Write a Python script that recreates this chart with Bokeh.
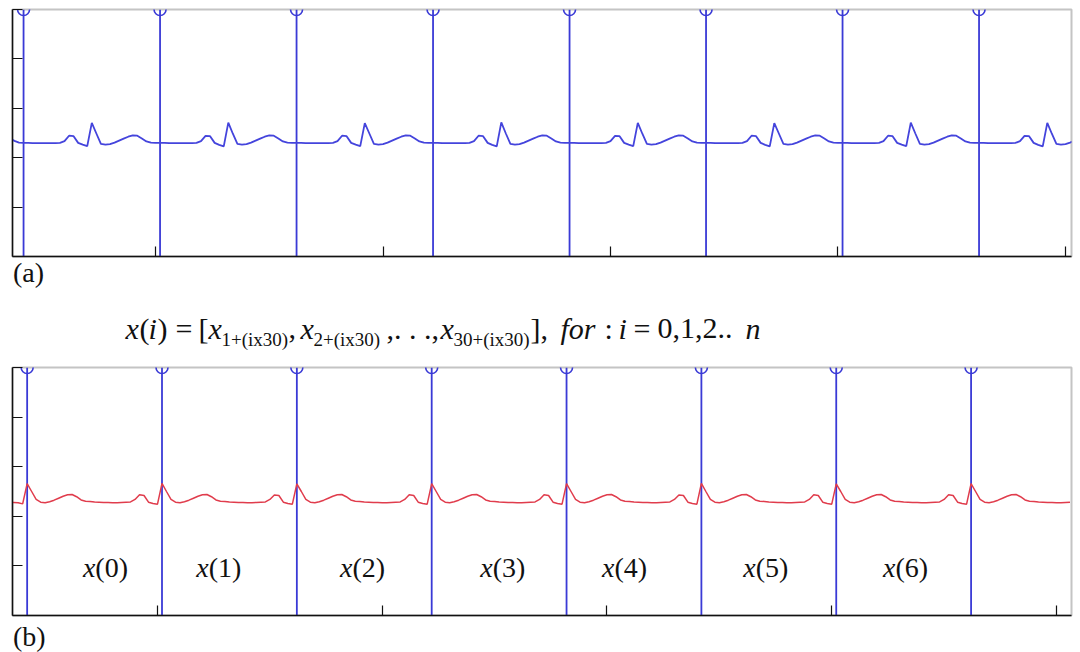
from bokeh.plotting import figure
from bokeh.layouts import column
from bokeh.models import Range1d, FixedTicker, ColumnDataSource, Label
from bokeh.embed import file_html
from bokeh.resources import INLINE
from bokeh.core.properties import value

# ---------------- data ----------------
stem_positions = [21, 51, 81, 111, 141, 171, 201, 231]
stem_values = [1, 1, 1, 1, 1, 1, 1, 1]
x_ticks = [0, 50, 100, 150, 200, 250]
y_ticks = [0, 0.2, 0.4, 0.6, 0.8, 1.0]

# (a) raw ECG, samples n = 18 .. 253
sig_a_start = 18
sig_a = [
    0.478, 0.468, 0.461,
    0.460, 0.460, 0.459, 0.459, 0.459, 0.459, 0.459, 0.459, 0.460, 0.467, 0.489, 0.487, 0.460, 0.453, 0.447,
    0.541, 0.498, 0.456, 0.453, 0.455, 0.461, 0.469, 0.477, 0.485, 0.490, 0.489, 0.478, 0.466, 0.461, 0.460,
    0.460, 0.460, 0.459, 0.459, 0.459, 0.459, 0.459, 0.459, 0.460, 0.467, 0.488, 0.487, 0.460, 0.452, 0.446,
    0.542, 0.497, 0.456, 0.453, 0.455, 0.461, 0.469, 0.477, 0.485, 0.490, 0.489, 0.478, 0.466, 0.461, 0.460,
    0.460, 0.460, 0.459, 0.459, 0.459, 0.459, 0.459, 0.459, 0.460, 0.467, 0.489, 0.487, 0.460, 0.453, 0.447,
    0.540, 0.498, 0.456, 0.453, 0.455, 0.461, 0.469, 0.477, 0.485, 0.490, 0.489, 0.478, 0.466, 0.461, 0.460,
    0.460, 0.460, 0.459, 0.459, 0.459, 0.459, 0.459, 0.459, 0.460, 0.467, 0.489, 0.487, 0.460, 0.452, 0.446,
    0.543, 0.498, 0.456, 0.453, 0.455, 0.461, 0.469, 0.477, 0.485, 0.490, 0.489, 0.478, 0.466, 0.461, 0.460,
    0.460, 0.460, 0.459, 0.459, 0.459, 0.459, 0.459, 0.459, 0.460, 0.467, 0.488, 0.487, 0.460, 0.453, 0.447,
    0.541, 0.497, 0.456, 0.453, 0.455, 0.461, 0.469, 0.477, 0.485, 0.490, 0.489, 0.478, 0.466, 0.461, 0.460,
    0.460, 0.460, 0.459, 0.459, 0.459, 0.459, 0.459, 0.459, 0.460, 0.467, 0.489, 0.487, 0.460, 0.452, 0.446,
    0.540, 0.498, 0.456, 0.453, 0.455, 0.461, 0.469, 0.477, 0.485, 0.490, 0.489, 0.478, 0.466, 0.461, 0.460,
    0.460, 0.460, 0.459, 0.459, 0.459, 0.459, 0.459, 0.459, 0.460, 0.467, 0.489, 0.487, 0.460, 0.453, 0.447,
    0.542, 0.498, 0.456, 0.453, 0.455, 0.461, 0.469, 0.477, 0.485, 0.490, 0.489, 0.478, 0.466, 0.461, 0.460,
    0.460, 0.460, 0.459, 0.459, 0.459, 0.459, 0.459, 0.459, 0.460, 0.467, 0.488, 0.487, 0.460, 0.452, 0.446,
    0.541, 0.497, 0.456, 0.453, 0.455, 0.461, 0.469, 0.477,
]

# (b) aligned ECG, samples n = 17 .. 253
sig_b_start = 17
sig_b = [
    0.456, 0.456, 0.455, 0.450,
    0.532, 0.500, 0.468, 0.457, 0.455, 0.459, 0.465, 0.473, 0.481, 0.487, 0.488, 0.479, 0.466, 0.461, 0.460,
    0.458, 0.457, 0.456, 0.456, 0.455, 0.455, 0.456, 0.457, 0.458, 0.468, 0.487, 0.484, 0.457, 0.452, 0.449,
    0.533, 0.500, 0.468, 0.457, 0.455, 0.459, 0.465, 0.473, 0.481, 0.487, 0.488, 0.479, 0.466, 0.461, 0.460,
    0.458, 0.457, 0.456, 0.456, 0.455, 0.455, 0.456, 0.457, 0.458, 0.468, 0.486, 0.484, 0.457, 0.452, 0.449,
    0.531, 0.500, 0.468, 0.457, 0.455, 0.459, 0.465, 0.473, 0.481, 0.487, 0.488, 0.479, 0.466, 0.461, 0.460,
    0.458, 0.457, 0.456, 0.456, 0.455, 0.455, 0.456, 0.457, 0.458, 0.468, 0.487, 0.484, 0.457, 0.452, 0.449,
    0.532, 0.500, 0.468, 0.457, 0.455, 0.459, 0.465, 0.473, 0.481, 0.487, 0.488, 0.479, 0.466, 0.461, 0.460,
    0.458, 0.457, 0.456, 0.456, 0.455, 0.455, 0.456, 0.457, 0.458, 0.468, 0.487, 0.484, 0.457, 0.452, 0.449,
    0.532, 0.500, 0.468, 0.457, 0.455, 0.459, 0.465, 0.473, 0.481, 0.487, 0.488, 0.479, 0.466, 0.461, 0.460,
    0.458, 0.457, 0.456, 0.456, 0.455, 0.455, 0.456, 0.457, 0.458, 0.468, 0.486, 0.484, 0.457, 0.452, 0.449,
    0.533, 0.500, 0.468, 0.457, 0.455, 0.459, 0.465, 0.473, 0.481, 0.487, 0.488, 0.479, 0.466, 0.461, 0.460,
    0.458, 0.457, 0.456, 0.456, 0.455, 0.455, 0.456, 0.457, 0.458, 0.468, 0.487, 0.484, 0.457, 0.452, 0.449,
    0.531, 0.500, 0.468, 0.457, 0.455, 0.459, 0.465, 0.473, 0.481, 0.487, 0.488, 0.479, 0.466, 0.461, 0.460,
    0.458, 0.457, 0.456, 0.456, 0.455, 0.455, 0.456, 0.457, 0.458, 0.468, 0.487, 0.484, 0.457, 0.452, 0.449,
    0.532, 0.500, 0.468, 0.457, 0.455, 0.459, 0.465, 0.473, 0.481, 0.487, 0.488, 0.479, 0.466, 0.461, 0.460,
    0.458, 0.457, 0.456, 0.456, 0.455, 0.455, 0.456, 0.457,
]

seg_labels = ["(0)", "(1)", "(2)", "(3)", "(4)", "(5)", "(6)"]
seg_label_x = [38.4, 63.6, 95.6, 126.8, 153.9, 185.3, 216.4]
seg_label_y = [0.194, 0.194, 0.194, 0.194, 0.194, 0.194, 0.194]

# ---------------- styling ----------------
BLUE = "#4444dc"
STEM = "#3a3ad6"
RED = "#e03c4c"
SERIF = "Liberation Serif"
W = 1080
BL, BR = 12, 9          # shared left/right borders -> frames span x 12..1071


def style_axes(p):
    p.grid.visible = False
    for ax in p.axis:
        ax.major_label_text_font_size = "0px"
        ax.major_label_text_color = None
        ax.major_label_standoff = 0
        ax.major_tick_out = 0
        ax.major_tick_in = 10
        ax.minor_tick_in = 0
        ax.minor_tick_out = 0
        ax.axis_line_color = "#111111"
        ax.axis_line_width = 1.5
        ax.major_tick_line_color = "#111111"
        ax.major_tick_line_width = 1.2
    p.xaxis.ticker = FixedTicker(ticks=x_ticks)
    p.yaxis.ticker = FixedTicker(ticks=y_ticks)
    p.outline_line_color = "#c4c4c4"
    p.outline_line_width = 2


def stems(p):
    p.segment(x0=stem_positions, y0=[0] * len(stem_positions), x1=stem_positions,
              y1=stem_values, line_color=STEM, line_width=1.8)
    p.scatter(stem_positions, stem_values, marker="circle", size=12,
              fill_color=None, line_color=STEM, line_width=1.6)


def text_strip(height, y_top):
    p = figure(width=W, height=height, x_range=Range1d(BL, W - BR),
               y_range=Range1d(y_top + height, y_top),
               x_axis_type=None, y_axis_type=None, output_backend="svg",
               toolbar_location=None, min_border_left=BL, min_border_right=BR,
               min_border_top=0, min_border_bottom=0, outline_line_color=None)
    return p


def panel_tag(p, txt, px, cy):
    p.add_layout(Label(x=px, y=cy, text=txt, text_font=SERIF, text_font_size="28px",
                       text_align="left", text_baseline="middle", text_color="#111111"))


# panel (a): frame y 9..256
pa = figure(width=W, height=258, x_range=Range1d(18.57, 251.32), y_range=Range1d(0, 1),
            output_backend="svg", toolbar_location=None,
            min_border_left=BL, min_border_right=BR, min_border_top=9, min_border_bottom=2)
style_axes(pa)
stems(pa)
xa = [sig_a_start + i for i in range(len(sig_a))]
pa.line(xa, sig_a, line_color=BLUE, line_width=1.8)

# text strip with (a) and the formula (page pixel coordinates)
pt = text_strip(108, 258)
panel_tag(pt, "(a)", 12.5, 272)

MAIN, SUB = 328, 339
pieces = [
    ("x", 125, "italic", 30, MAIN), ("(", 139, "normal", 30, MAIN), ("i", 148, "italic", 30, MAIN),
    (")", 157, "normal", 30, MAIN), ("=", 175, "normal", 30, MAIN), ("[", 198, "normal", 30, MAIN),
    ("x", 208, "italic", 30, MAIN), ("1+(ix30)", 221, "normal", 19, SUB), (",", 288, "normal", 30, MAIN),
    ("x", 300, "italic", 30, MAIN), ("2+(ix30)", 313, "normal", 19, SUB), (",. . .,", 386, "normal", 30, MAIN),
    ("x", 440, "italic", 30, MAIN), ("30+(ix30)", 453, "normal", 19, SUB), ("],", 530, "normal", 30, MAIN),
    ("for", 560, "italic", 30, MAIN), (":", 604, "normal", 30, MAIN), ("i", 618, "italic", 30, MAIN),
    ("=", 633, "normal", 30, MAIN), ("0,1,2..", 657, "normal", 30, MAIN), ("n", 745, "italic", 30, MAIN),
]
for txt, px, style, size, cy in pieces:
    pt.text([px], [cy], text=[txt], text_font=value(SERIF), text_font_size=f"{size}px",
            text_font_style=style, text_align="left", text_baseline="middle",
            text_color="#111111")

# panel (b): frame y 367..615
pb = figure(width=W, height=252, x_range=Range1d(17.74, 253.34), y_range=Range1d(0, 1),
            output_backend="svg", toolbar_location=None,
            min_border_left=BL, min_border_right=BR, min_border_top=1, min_border_bottom=3)
style_axes(pb)
stems(pb)
xb = [sig_b_start + i for i in range(len(sig_b))]
pb.line(xb, sig_b, line_color=RED, line_width=1.5)
lab_src = ColumnDataSource(dict(x=seg_label_x, y=seg_label_y, t=seg_labels))
pb.text(x="x", y="y", text=value("x"), source=lab_src, text_font=value(SERIF),
        text_font_size="28px", text_font_style="italic", text_align="right",
        text_baseline="middle", x_offset=-10, text_color="#111111")
pb.text(x="x", y="y", text="t", source=lab_src, text_font=value(SERIF),
        text_font_size="28px", text_align="left", text_baseline="middle",
        x_offset=-10, text_color="#111111")

# bottom strip with (b)
pt2 = text_strip(34, 618)
panel_tag(pt2, "(b)", 12.5, 636)

layout = column(pa, pt, pb, pt2, spacing=0)
open("out.html", "w").write(file_html(layout, INLINE))
